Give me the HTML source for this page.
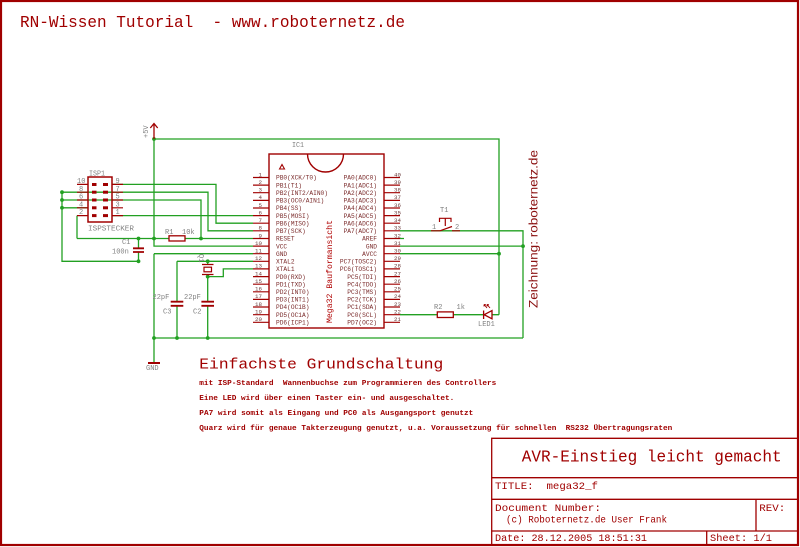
<!DOCTYPE html>
<html><head><meta charset="utf-8"><style>
html,body{margin:0;padding:0;background:#fff;}
svg{display:block;}
text{font-family:"Liberation Mono",monospace;white-space:pre;}
.g{stroke:#22a022;stroke-width:1.3;fill:none;}
.r{stroke:#a00000;fill:none;}
.pn{font-size:6.2px;fill:#7a2a2a;}
.num{font-size:5.8px;fill:#6a3a3a;}
.lab{font-size:7px;fill:#808080;}
.tb{fill:#a00000;}
</style></head><body>
<svg width="800" height="547" viewBox="0 0 800 547" xmlns="http://www.w3.org/2000/svg">
<rect x="0" y="0" width="800" height="547" fill="#fff"/>
<!-- frame -->
<rect x="1" y="1" width="797" height="544" fill="none" stroke="#a00000" stroke-width="2.2"/>
<!-- header -->
<text x="20" y="27" font-size="17" textLength="385" lengthAdjust="spacingAndGlyphs" class="tb">RN-Wissen Tutorial  - www.roboternetz.de</text>

<!-- wires -->
<path class="g" d="M154,139 H499 V314.7
M154,139 V246.1 H253
M77,238.5 H169 M185,238.5 H253
M77,215.6 V238.5
M112,215.6 H253
M112,184.4 H216 V223.2 H253
M62,192.2 H208 V230.8 H253
M62,200 H201 V238.5
M62,207.8 H88
M62,192.2 V261.3 H138.5 V252 M138.5,248 V238.5
M154,253.7 H253 M154,253.7 V363
M177,261.3 H253 M177,261.3 V301.5 M177,306 V338
M207.7,261.3 V264.5 M207.7,274.5 V301.5 M207.7,306 V338
M207.7,276.6 H223.3 V268.9 H253
M154,338 H523
M400,230.8 H523 V338
M400,238.5 H404
M400,246.1 H523
M400,253.7 H499
M400,314.7 H437 M453,314.7 H483 M492,314.7 H499"/>
<g fill="#22a022">
<circle cx="154" cy="139" r="1.9"/><circle cx="154" cy="238.5" r="1.9"/><circle cx="138.5" cy="238.5" r="1.9"/>
<circle cx="201" cy="238.5" r="1.9"/><circle cx="138.5" cy="261.3" r="1.9"/><circle cx="62" cy="192.2" r="1.9"/>
<circle cx="62" cy="200" r="1.9"/><circle cx="62" cy="207.8" r="1.9"/><circle cx="207.7" cy="261.3" r="1.9"/>
<circle cx="207.7" cy="276.6" r="1.9"/><circle cx="154" cy="338" r="1.9"/><circle cx="177" cy="338" r="1.9"/>
<circle cx="207.7" cy="338" r="1.9"/><circle cx="523" cy="246.1" r="1.9"/><circle cx="499" cy="253.7" r="1.9"/>
</g>

<!-- +5V -->
<path class="r" stroke-width="1.3" d="M154,139 V123.5 M150.3,128 L154,123.5 L157.7,128"/>
<text class="lab" font-size="6" transform="translate(148,138) rotate(-90)">+5V</text>

<!-- GND symbol -->
<path class="r" stroke-width="2" d="M148,363 H160"/>
<text class="lab" x="146" y="370" font-size="6.5">GND</text>

<!-- ISP connector -->
<rect x="88" y="177" width="24" height="45" class="r" stroke-width="1.5" fill="#fff"/>
<path class="r" stroke-width="1.2" d="M77,184.4 H88 M77,192.2 H88 M77,200 H88 M77,207.8 H88 M77,215.6 H88 M112,184.4 H123 M112,192.2 H123 M112,200 H123 M112,207.8 H123 M112,215.6 H123"/>
<g fill="#a00000">
<rect x="92" y="183" width="4.5" height="3"/><rect x="103" y="183" width="5" height="3"/>
<rect x="92" y="190.7" width="4.5" height="3"/><rect x="103" y="190.7" width="5" height="3"/>
<rect x="92" y="198.5" width="4.5" height="3"/><rect x="103" y="198.5" width="5" height="3"/>
<rect x="92" y="206.3" width="4.5" height="3"/><rect x="103" y="206.3" width="5" height="3"/>
<rect x="92" y="214.1" width="4.5" height="3"/><rect x="103" y="214.1" width="5" height="3"/>
</g>
<g class="lab" font-size="6.5">
<text x="77" y="183">10</text><text x="79" y="190.8">8</text><text x="79" y="198.6">6</text><text x="79" y="206.4">4</text><text x="79" y="214.2">2</text>
<text x="115.5" y="183">9</text><text x="115.5" y="190.8">7</text><text x="115.5" y="198.6">5</text><text x="115.5" y="206.4">3</text><text x="115.5" y="214.2">1</text>
</g>
<text class="lab" x="89" y="175.5" textLength="16" lengthAdjust="spacingAndGlyphs">ISP1</text>
<text class="lab" x="88" y="230.5" textLength="46" lengthAdjust="spacingAndGlyphs">ISPSTECKER</text>

<!-- R1 -->
<rect x="169" y="235.8" width="16" height="5.2" class="r" stroke-width="1.3" fill="#fff"/>
<text class="lab" x="165" y="234" font-size="6.5">R1</text>
<text class="lab" x="182" y="234" font-size="6.5">10k</text>

<!-- C1 -->
<path class="r" stroke-width="1.8" d="M133,248.3 H144 M133,252 H144"/>
<text class="lab" x="122" y="244" font-size="6.5">C1</text>
<text class="lab" x="112" y="253.5" font-size="6.5">100n</text>

<!-- C3, C2 -->
<path class="r" stroke-width="1.8" d="M170.7,301.7 H183.3 M170.7,305.8 H183.3 M201.4,301.7 H214 M201.4,305.8 H214"/>
<text class="lab" x="152.5" y="299" font-size="6.5">22pF</text>
<text class="lab" x="184" y="299" font-size="6.5">22pF</text>
<text class="lab" x="163" y="313.5" font-size="6.5">C3</text>
<text class="lab" x="193" y="313.5" font-size="6.5">C2</text>

<!-- Crystal Q1 -->
<path class="r" stroke-width="1.3" d="M202,264.5 H213.5 M202,274.5 H213.5"/>
<rect x="204" y="267.2" width="7.5" height="4.6" class="r" stroke-width="1.2" fill="#fff"/>
<text class="lab" font-size="6.5" transform="translate(199,254) rotate(90)">Q1</text>

<!-- IC -->
<text class="lab" x="292" y="147" textLength="12" lengthAdjust="spacingAndGlyphs">IC1</text>
<rect x="269" y="154" width="115" height="174" class="r" stroke-width="1.4" fill="#fff"/>
<path class="r" stroke-width="1.4" d="M307.5,154 A18,18 0 0 0 343.5,154"/>
<path class="r" stroke-width="1.1" d="M279.5,169 L282,164.5 L284.5,169 Z"/>
<path class="r" stroke-width="1.2" d="M253,177.5H269M253,185.1H269M253,192.7H269M253,200.4H269M253,208H269M253,215.6H269M253,223.2H269M253,230.8H269M253,238.5H269M253,246.1H269M253,253.7H269M253,261.3H269M253,268.9H269M253,276.6H269M253,284.2H269M253,291.8H269M253,299.4H269M253,307H269M253,314.7H269M253,322.3H269
M384,177.5H400M384,185.1H400M384,192.7H400M384,200.4H400M384,208H400M384,215.6H400M384,223.2H400M384,230.8H400M384,238.5H400M384,246.1H400M384,253.7H400M384,261.3H400M384,268.9H400M384,276.6H400M384,284.2H400M384,291.8H400M384,299.4H400M384,307H400M384,314.7H400M384,322.3H400"/>
<g class="pn">
<text x="276" y="179.7">PB0(XCK/T0)</text>
<text x="276" y="187.3">PB1(T1)</text>
<text x="276" y="194.9">PB2(INT2/AIN0)</text>
<text x="276" y="202.6">PB3(OC0/AIN1)</text>
<text x="276" y="210.2">PB4(SS)</text>
<text x="276" y="217.8">PB5(MOSI)</text>
<text x="276" y="225.4">PB6(MISO)</text>
<text x="276" y="233">PB7(SCK)</text>
<text x="276" y="240.7">RESET</text>
<text x="276" y="248.3">VCC</text>
<text x="276" y="255.9">GND</text>
<text x="276" y="263.5">XTAL2</text>
<text x="276" y="271.1">XTAL1</text>
<text x="276" y="278.8">PD0(RXD)</text>
<text x="276" y="286.4">PD1(TXD)</text>
<text x="276" y="294">PD2(INT0)</text>
<text x="276" y="301.6">PD3(INT1)</text>
<text x="276" y="309.2">PD4(OC1B)</text>
<text x="276" y="316.9">PD5(OC1A)</text>
<text x="276" y="324.5">PD6(ICP1)</text>
</g>
<g class="pn" text-anchor="end">
<text x="377" y="179.7">PA0(ADC0)</text>
<text x="377" y="187.3">PA1(ADC1)</text>
<text x="377" y="194.9">PA2(ADC2)</text>
<text x="377" y="202.6">PA3(ADC3)</text>
<text x="377" y="210.2">PA4(ADC4)</text>
<text x="377" y="217.8">PA5(ADC5)</text>
<text x="377" y="225.4">PA6(ADC6)</text>
<text x="377" y="233">PA7(ADC7)</text>
<text x="377" y="240.7">AREF</text>
<text x="377" y="248.3">GND</text>
<text x="377" y="255.9">AVCC</text>
<text x="377" y="263.5">PC7(TOSC2)</text>
<text x="377" y="271.1">PC6(TOSC1)</text>
<text x="377" y="278.8">PC5(TDI)</text>
<text x="377" y="286.4">PC4(TDO)</text>
<text x="377" y="294">PC3(TMS)</text>
<text x="377" y="301.6">PC2(TCK)</text>
<text x="377" y="309.2">PC1(SDA)</text>
<text x="377" y="316.9">PC0(SCL)</text>
<text x="377" y="324.5">PD7(OC2)</text>
</g>
<g class="num" text-anchor="end">
<text x="262" y="176.3">1</text><text x="262" y="183.9">2</text><text x="262" y="191.5">3</text><text x="262" y="199.2">4</text><text x="262" y="206.8">5</text>
<text x="262" y="214.4">6</text><text x="262" y="222">7</text><text x="262" y="229.6">8</text><text x="262" y="237.3">9</text><text x="262" y="244.9">10</text>
<text x="262" y="252.5">11</text><text x="262" y="260.1">12</text><text x="262" y="267.7">13</text><text x="262" y="275.4">14</text><text x="262" y="283">15</text>
<text x="262" y="290.6">16</text><text x="262" y="298.2">17</text><text x="262" y="305.8">18</text><text x="262" y="313.5">19</text><text x="262" y="321.1">20</text>
<text x="401" y="176.3">40</text><text x="401" y="183.9">39</text><text x="401" y="191.5">38</text><text x="401" y="199.2">37</text><text x="401" y="206.8">36</text>
<text x="401" y="214.4">35</text><text x="401" y="222">34</text><text x="401" y="229.6">33</text><text x="401" y="237.3">32</text><text x="401" y="244.9">31</text>
<text x="401" y="252.5">30</text><text x="401" y="260.1">29</text><text x="401" y="267.7">28</text><text x="401" y="275.4">27</text><text x="401" y="283">26</text>
<text x="401" y="290.6">25</text><text x="401" y="298.2">24</text><text x="401" y="305.8">23</text><text x="401" y="313.5">22</text><text x="401" y="321.1">21</text>
</g>
<text transform="translate(332,323) rotate(-90)" font-size="8" fill="#b00000" textLength="103" lengthAdjust="spacingAndGlyphs">Mega32 Bauformansicht</text>

<!-- Switch T1 -->
<text class="lab" x="440" y="212" font-size="6.5">T1</text>
<path class="r" stroke-width="1.2" d="M431,230.8 H440 L452,226.5 M452,230.8 H460 M439.5,222 V218.3 H451 V222 M445.3,218.3 V226"/>
<text class="lab" x="432" y="229" font-size="6">1</text>
<text class="lab" x="455" y="229" font-size="6">2</text>

<!-- R2 -->
<rect x="437.3" y="311.9" width="16" height="5.6" class="r" stroke-width="1.3" fill="#fff"/>
<text class="lab" x="434" y="309" font-size="6.5">R2</text>
<text class="lab" x="456.5" y="309" font-size="6.5">1k</text>

<!-- LED -->
<path class="r" stroke-width="1.3" d="M483.6,310.5 V319 M484.2,314.7 L492,310.6 L492,318.8 Z"/>
<path class="r" stroke-width="0.9" d="M487,308 L484,304.5 M484,304.5 L484,306.5 M484,304.5 L486,304.8 M490,308 L487,304.5 M487,304.5 L487,306.5 M487,304.5 L489,304.8"/>
<text class="lab" x="478" y="326" font-size="6.5">LED1</text>

<!-- Zeichnung -->
<text transform="translate(537.5,308) rotate(-90)" font-family="Liberation Sans, sans-serif" font-size="11.5" fill="#8a1010" textLength="158" lengthAdjust="spacingAndGlyphs" style="font-family:'Liberation Sans',sans-serif">Zeichnung: roboternetz.de</text>

<!-- Description -->
<text x="199.3" y="368.3" font-size="15" class="tb" textLength="244" lengthAdjust="spacingAndGlyphs">Einfachste Grundschaltung</text>
<g class="tb" font-size="7.7" font-weight="bold">
<text x="199.3" y="385" textLength="297" lengthAdjust="spacingAndGlyphs">mit ISP-Standard  Wannenbuchse zum Programmieren des Controllers</text>
<text x="199.3" y="400" textLength="255" lengthAdjust="spacingAndGlyphs">Eine LED wird über einen Taster ein- und ausgeschaltet.</text>
<text x="199.3" y="415" textLength="274" lengthAdjust="spacingAndGlyphs">PA7 wird somit als Eingang und PC0 als Ausgangsport genutzt</text>
<text x="199.3" y="430" textLength="473" lengthAdjust="spacingAndGlyphs">Quarz wird für genaue Takterzeugung genutzt, u.a. Voraussetzung für schnellen  RS232 Übertragungsraten</text>
</g>

<!-- Title block -->
<path class="r" stroke-width="1.3" d="M491.7,545 V438.3 H797 M491.7,477.7 H797 M491.7,499.3 H797 M491.7,531 H797 M756,499.3 V531 M706.7,531 V545"/>
<text x="521.7" y="461.7" font-size="17" class="tb" textLength="260" lengthAdjust="spacingAndGlyphs">AVR-Einstieg leicht gemacht</text>
<g class="tb" font-size="10.5">
<text x="495" y="489" textLength="103" lengthAdjust="spacingAndGlyphs">TITLE:  mega32_f</text>
<text x="495" y="511" textLength="106" lengthAdjust="spacingAndGlyphs">Document Number:</text>
<text x="506" y="522.3" textLength="161" lengthAdjust="spacingAndGlyphs">(c) Roboternetz.de User Frank</text>
<text x="759.3" y="511" textLength="26" lengthAdjust="spacingAndGlyphs">REV:</text>
<text x="495" y="541" textLength="152" lengthAdjust="spacingAndGlyphs">Date: 28.12.2005 18:51:31</text>
<text x="710" y="541" textLength="62" lengthAdjust="spacingAndGlyphs">Sheet: 1/1</text>
</g>
</svg>
</body></html>
